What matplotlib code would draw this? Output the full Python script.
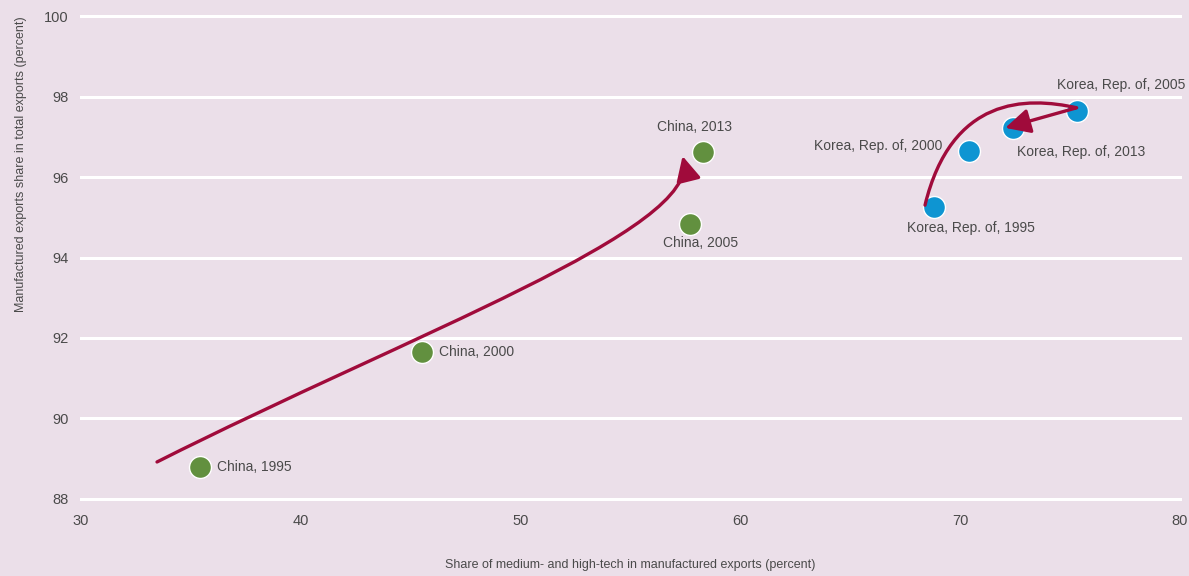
import numpy as np
import matplotlib
matplotlib.use('Agg')
import matplotlib.pyplot as plt
from matplotlib.path import Path
from matplotlib.patches import FancyArrowPatch

plt.rcParams['font.family'] = ['Liberation Sans', 'DejaVu Sans']

# data
china_labels = ['China, 1995', 'China, 2000', 'China, 2005', 'China, 2013']
china_x = [35.4, 45.5, 57.7, 58.3]
china_y = [88.8, 91.65, 94.83, 96.62]

korea_labels = ['Korea, Rep. of, 1995', 'Korea, Rep. of, 2000', 'Korea, Rep. of, 2005', 'Korea, Rep. of, 2013']
korea_x = [68.8, 70.4, 75.3, 72.4]
korea_y = [95.25, 96.65, 97.64, 97.22]

x_ticks = [30, 40, 50, 60, 70, 80]
y_ticks = [88, 90, 92, 94, 96, 98, 100]

# trajectory arrows (bezier control points)
china_path = [(33.46, 88.92), (45.0, 92.1), (58.2, 94.7), (57.37, 96.52)]
korea_path = [(68.4, 95.3), (69.6, 98.0), (73.0, 98.0), (75.3, 97.72), (72.05, 97.22)]

# label offsets in pixels and alignment
china_offsets = [(17, 0, 'left'), (17, 0, 'left'), (11, -19, 'center'), (-9, 25, 'center')]
korea_offsets = [(37, -21, 'center'), (-27, 5, 'right'), (45, 26, 'center'), (4, -24, 'left')]

bg = '#EBDFE9'
text_col = '#4A4A4A'
arrow_col = '#A00B3B'
green = '#62903F'
blue = '#0E95D2'

fig = plt.figure(figsize=(11.89, 5.76), dpi=100, facecolor=bg)
ax = fig.add_axes([0.0681, 0.1337, 0.9243, 0.8385], facecolor=bg)

ax.set_xlim(30, 80)
ax.set_ylim(88, 100)
ax.set_xticks(x_ticks)
ax.set_yticks(y_ticks)
for yv in y_ticks:
    ax.axhline(yv, color='white', lw=2.2, zorder=1, clip_on=False)
for s in ax.spines.values():
    s.set_visible(False)
ax.tick_params(length=0, labelsize=10.5, labelcolor=text_col)
ax.tick_params(axis='x', pad=11)
ax.tick_params(axis='y', pad=9)

ax.set_xlabel('Share of medium- and high-tech in manufactured exports (percent)',
              fontsize=9, color=text_col, labelpad=22)
ax.set_ylabel('Manufactured exports share in total exports (percent)',
              fontsize=9, color=text_col, loc='top', labelpad=12)

# arrows
cp = Path(china_path, [Path.MOVETO, Path.CURVE4, Path.CURVE4, Path.CURVE4])
kp = Path(korea_path, [Path.MOVETO, Path.CURVE4, Path.CURVE4, Path.CURVE4, Path.LINETO])
for p in (cp, kp):
    arr = FancyArrowPatch(path=p, arrowstyle='-|>,head_length=1.0,head_width=0.5',
                          mutation_scale=15, color=arrow_col, lw=2.4,
                          transform=ax.transData, zorder=4)
    ax.add_patch(arr)

ax.scatter(china_x, china_y, s=250, color=green, edgecolor='white', linewidth=1, zorder=3)
ax.scatter(korea_x, korea_y, s=250, color=blue, edgecolor='white', linewidth=1, zorder=3)

for lab, x, y, (dx, dy, ha) in zip(china_labels + korea_labels, china_x + korea_x,
                                   china_y + korea_y, china_offsets + korea_offsets):
    ax.annotate(lab, (x, y), xytext=(dx, dy), textcoords='offset pixels',
                ha=ha, va='center', fontsize=10, color=text_col, zorder=5)

fig.savefig('out.png', dpi=100, facecolor=bg)
